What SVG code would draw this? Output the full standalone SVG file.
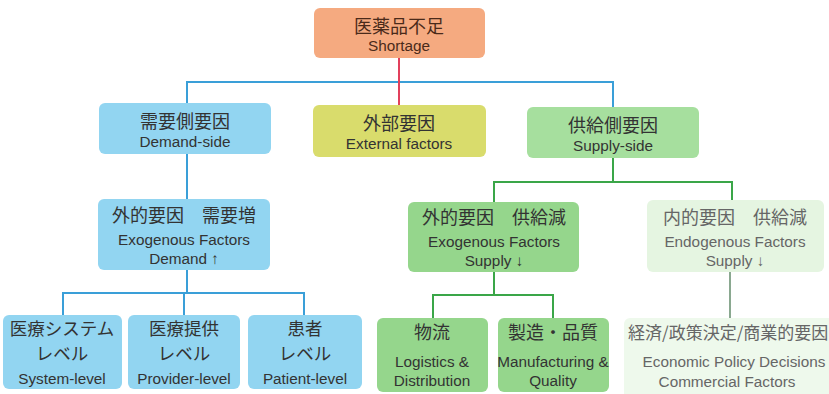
<svg xmlns="http://www.w3.org/2000/svg" width="829" height="394" viewBox="0 0 829 394">
<style>
text{font-family:"Liberation Sans","Noto Sans CJK JP",sans-serif;text-anchor:middle;fill:#333}
.jp{font-family:"Noto Sans CJK JP",sans-serif;font-size:18px}
.jps{font-family:"Noto Sans CJK JP",sans-serif;font-size:17.5px}
.en{font-size:15.3px}
.blue{fill:#92d5f1}
.green{fill:#a6df9e}
.green2{fill:#95d68c}
.pale{fill:#e5f5e1}
.pale2{fill:#eef9ec}
.light text{fill:#666}
.c{fill:none;stroke-width:2}
</style>
<rect width="829" height="394" fill="#fff"/>
<g id="connectors">
<path class="c" stroke="#3a9fd8" d="M187,103 V82 H613 V107"/>
<path class="c" stroke="#e2405c" d="M399,58 V105"/>
<path class="c" stroke="#3a9fd8" d="M187,154 V199 M187,270 V293 M63,315 V293 H304 V315 M184,293 V315"/>
<path class="c" stroke="#3aa648" d="M613,158 V182 M494,202 V182 H732 V200 M494,272 V295 M433,318 V295 H553 V318"/>
<path class="c" stroke="#8aa890" d="M730,272 V318"/>
</g>
<g id="shortage">
<rect x="314" y="8" width="171" height="50" rx="6" fill="#f5aa80"/>
<text class="jp" x="399" y="33" style="fill:#4a2a1a">医薬品不足</text>
<text class="en" x="399" y="51" style="fill:#4a2a1a">Shortage</text>
</g>
<g id="demand">
<rect class="blue" x="99" y="103" width="172" height="51" rx="6"/>
<text class="jp" x="185" y="128">需要側要因</text>
<text class="en" x="185" y="147">Demand-side</text>
</g>
<g id="external">
<rect x="313" y="105" width="173" height="52" rx="6" fill="#d9dc6c"/>
<text class="jp" x="399" y="130">外部要因</text>
<text class="en" x="399" y="149">External factors</text>
</g>
<g id="supply">
<rect class="green" x="527" y="107" width="172" height="51" rx="6"/>
<text class="jp" x="613" y="132">供給側要因</text>
<text class="en" x="613" y="151">Supply-side</text>
</g>
<g id="exo-demand">
<rect class="blue" x="98" y="199" width="172" height="71" rx="6"/>
<text class="jp" x="184" y="222">外的要因　需要増</text>
<text class="en" x="184" y="245">Exogenous Factors</text>
<text class="en" x="184" y="264">Demand ↑</text>
</g>
<g id="exo-supply">
<rect class="green2" x="408" y="202" width="171" height="70" rx="6"/>
<text class="jp" x="494" y="224">外的要因　供給減</text>
<text class="en" x="494" y="247">Exogenous Factors</text>
<text class="en" x="494" y="266">Supply ↓</text>
</g>
<g id="endo-supply" class="light">
<rect class="pale" x="647" y="200" width="177" height="72" rx="6"/>
<text class="jp" x="735" y="224">内的要因　供給減</text>
<text class="en" x="735" y="247">Endogenous Factors</text>
<text class="en" x="735" y="266">Supply ↓</text>
</g>
<g id="system">
<rect class="blue" x="3" y="315" width="119" height="74" rx="6"/>
<text class="jps" x="62" y="335">医療システム</text>
<text class="jps" x="62" y="360">レベル</text>
<text class="en" x="62" y="384">System-level</text>
</g>
<g id="provider">
<rect class="blue" x="128" y="315" width="112" height="74" rx="6"/>
<text class="jps" x="184" y="335">医療提供</text>
<text class="jps" x="184" y="360">レベル</text>
<text class="en" x="184" y="384">Provider-level</text>
</g>
<g id="patient">
<rect class="blue" x="248" y="315" width="114" height="74" rx="6"/>
<text class="jps" x="305" y="335">患者</text>
<text class="jps" x="305" y="360">レベル</text>
<text class="en" x="305" y="384">Patient-level</text>
</g>
<g id="logistics">
<rect class="green2" x="377" y="318" width="111" height="74" rx="6"/>
<text class="jp" x="432" y="339">物流</text>
<text class="en" x="432" y="367">Logistics &amp;</text>
<text class="en" x="432" y="386">Distribution</text>
</g>
<g id="manufacturing">
<rect class="green2" x="498" y="318" width="111" height="74" rx="6"/>
<text class="jp" x="553" y="339">製造・品質</text>
<text class="en" x="553" y="367">Manufacturing &amp;</text>
<text class="en" x="553" y="386">Quality</text>
</g>
<g id="economic" class="light">
<rect class="pale2" x="624" y="318" width="230" height="90" rx="6"/>
<text class="jp" x="628" y="339" style="text-anchor:start;font-size:17px">経済/政策決定/商業的要因</text>
<text class="en" x="734" y="367">Economic Policy Decisions</text>
<text class="en" x="727" y="387">Commercial Factors</text>
</g>
</svg>
